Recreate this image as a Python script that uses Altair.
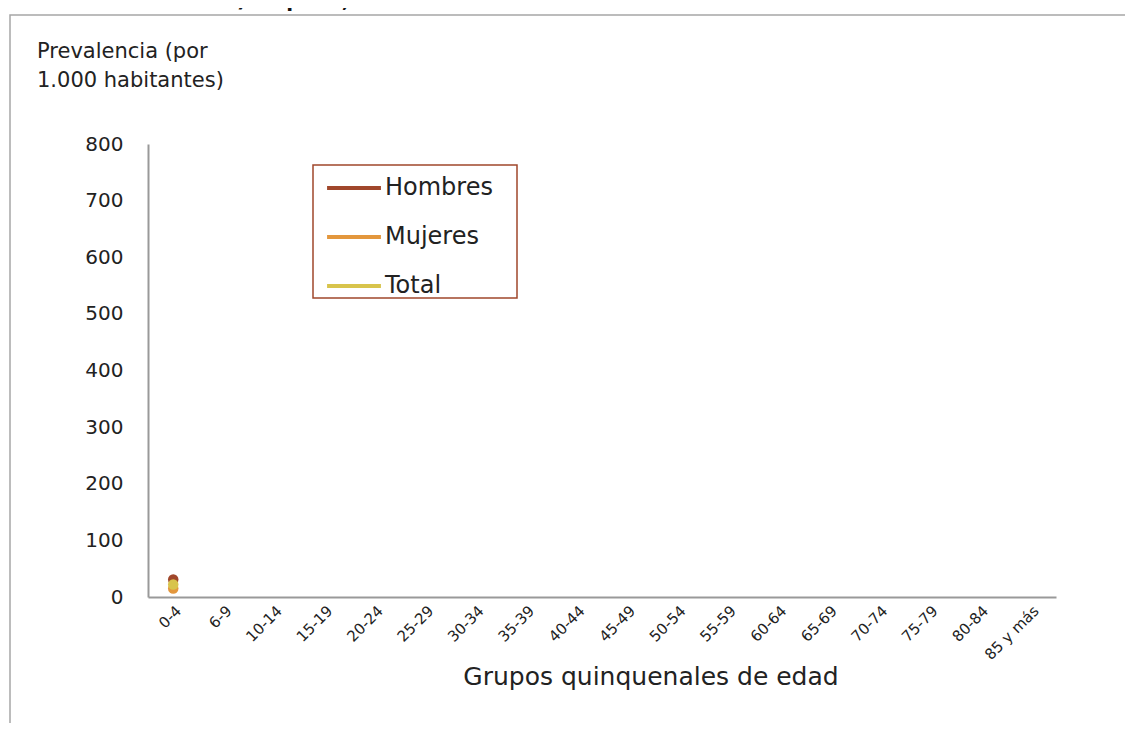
import altair as alt
import pandas as pd

grupos = ["0-4", "6-9", "10-14", "15-19", "20-24", "25-29", "30-34", "35-39",
          "40-44", "45-49", "50-54", "55-59", "60-64", "65-69", "70-74",
          "75-79", "80-84", "85 y más"]
series = ["Hombres", "Mujeres", "Total"]
colores = ["#A0472B", "#E3973D", "#D8C44C"]
valores_0_4 = [31, 15, 22]
y_ticks = [0, 100, 200, 300, 400, 500, 600, 700, 800]

FONT = "DejaVu Sans"

df = pd.DataFrame({"grupo": ["0-4"] * 3, "serie": series, "valor": valores_0_4})
df = df.iloc[[1, 0, 2]].reset_index(drop=True)

x_enc = alt.X("grupo:N", scale=alt.Scale(domain=grupos),
              axis=alt.Axis(title=None, labelAngle=-45, labelFontSize=15,
                            labelFont=FONT, labelColor="#222", ticks=False,
                            domainColor="#999", domainWidth=2, labelPadding=6))
y_enc = alt.Y("valor:Q", scale=alt.Scale(domain=[0, 800], nice=False),
              axis=alt.Axis(title=None, values=y_ticks, labelFontSize=20,
                            labelFont=FONT, labelColor="#222", ticks=False,
                            domainColor="#999", domainWidth=2, grid=False,
                            labelPadding=25))
color_scale = alt.Scale(domain=series, range=colores)

lines = alt.Chart(df).mark_line(strokeCap="butt").encode(
    x=x_enc, y=y_enc,
    color=alt.Color("serie:N", scale=color_scale, sort=series,
                    legend=alt.Legend(title=None, orient="none", legendX=173, legendY=11,
                                      symbolType="stroke", symbolStrokeWidth=4,
                                      symbolSize=2900, labelFontSize=24, labelFont=FONT,
                                      labelColor="#222",
                                      padding=4, rowPadding=8, labelOffset=2)),
)

points = alt.Chart(df).mark_point(filled=True, opacity=1, size=110).encode(
    x=x_enc, y=y_enc,
    color=alt.Color("serie:N", scale=color_scale, legend=None),
)

one = pd.DataFrame({"a": [0]})
frame = alt.Chart(one).mark_rect(filled=False, stroke="#A6A6A6", strokeWidth=1.5).encode(
    x=alt.value(-138), x2=alt.value(1000), y=alt.value(-129), y2=alt.value(640)
)
legend_box = alt.Chart(one).mark_rect(filled=False, stroke="#A0472B", strokeWidth=1.5).encode(
    x=alt.value(165), x2=alt.value(369), y=alt.value(21), y2=alt.value(154)
)

ytitle = alt.Chart(one).mark_text(align="left", baseline="top", fontSize=21, font=FONT,
                                  color="#222", lineBreak="\n", lineHeight=29).encode(
    x=alt.value(-111), y=alt.value(-103),
    text=alt.value("Prevalencia (por\n1.000 habitantes)")
)
xtitle = alt.Chart(one).mark_text(align="center", baseline="alphabetic", fontSize=25,
                                  font=FONT, color="#222").encode(
    x=alt.value(503), y=alt.value(541), text=alt.value("Grupos quinquenales de edad")
)
title = alt.Chart(one).mark_text(align="center", baseline="bottom", fontSize=20,
                                 font=FONT, fontWeight="bold", color="#111").encode(
    x=alt.value(124), y=alt.value(-133), text=alt.value("familiares). España, 2008.")
)

chart = alt.layer(frame, legend_box, title, ytitle, xtitle, lines, points).properties(
    width=908, height=453,
    padding={"left": 140, "top": 136, "right": 69, "bottom": 126},
    autosize=alt.AutoSizeParams(type="none"),
).configure_view(stroke=None)

chart.save("out.html", embed_options={"renderer": "svg", "actions": False})
